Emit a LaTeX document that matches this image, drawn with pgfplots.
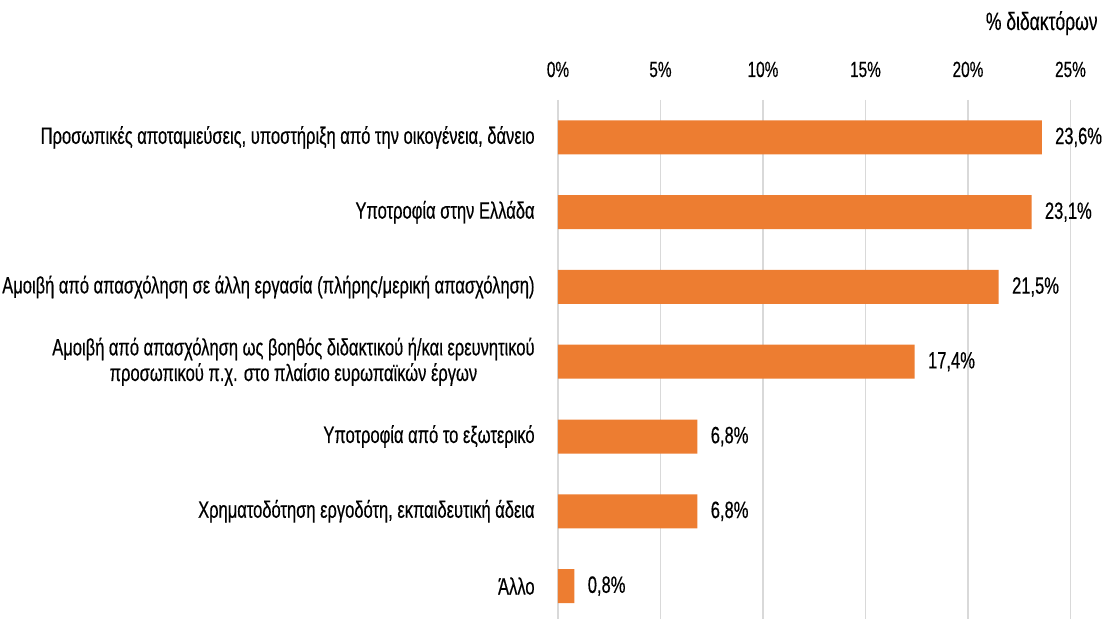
\documentclass[border=0pt]{standalone}
\usepackage{fontspec}
\setmainfont{Liberation Sans}[FakeStretch=0.7, FakeBold=0.4]
\usepackage{pgfplots}
\pgfplotsset{compat=1.18}
\definecolor{barorange}{HTML}{ED7D31}
\definecolor{gridgray}{HTML}{D9D9D9}

\begin{document}
\begin{tikzpicture}
\path[use as bounding box] (-279pt,0pt) rectangle (276pt,309.5pt);
\begin{axis}[
  at={(0,0)}, anchor=south west,
  scale only axis,
  width=256.25pt, height=259.5pt,
  xbar, bar width=17pt,
  xmin=0, xmax=25,
  ymin=-0.5, ymax=6.44,
  y dir=reverse,
  axis line style={draw=none},
  xtick={0,5,10,15,20,25},
  xticklabel pos=upper,
  xticklabel={\pgfmathprintnumber{\tick}\%},
  xticklabel style={font=\fontsize{11}{12}\selectfont, anchor=base, inner sep=0pt, yshift=11.5pt},
  ytick={0,1,2,3,4,5,6},
  yticklabels={
    {Προσωπικές αποταμιεύσεις, υποστήριξη από την οικογένεια, δάνειο},
    {Υποτροφία στην Ελλάδα},
    {Αμοιβή από απασχόληση σε άλλη εργασία (πλήρης/μερική απασχόληση)},
    {Αμοιβή από απασχόληση ως βοηθός διδακτικού ή/και ερευνητικού\\προσωπικού π.χ. στο πλαίσιο ευρωπαϊκών έργων},
    {Υποτροφία από το εξωτερικό},
    {Χρηματοδότηση εργοδότη, εκπαιδευτική άδεια},
    {Άλλο}},
  yticklabel style={font=\fontsize{11.8}{12.8}\selectfont, align=center, anchor=east, inner sep=0pt, xshift=-11.5pt},
  major tick length=0pt,
  xmajorgrids=true,
  grid style={line width=0.75pt, draw=gridgray},
  /pgf/number format/assume math mode=true,
  point meta=x,
  nodes near coords={\pgfmathprintnumber[fixed,fixed zerofill,precision=1,use comma]{\pgfplotspointmeta}\%},
  nodes near coords style={font=\fontsize{11.8}{12}\selectfont, anchor=west, inner sep=0pt, xshift=6.5pt, text=black},
  clip=false,
]
\addplot[fill=barorange, draw=none, bar shift=0pt] coordinates {
  (23.6,0) (23.1,1) (21.5,2) (17.4,3) (6.8,4) (6.8,5) (0.8,6)};
\node[font=\fontsize{12.5}{13}\selectfont, anchor=base east, inner sep=0pt]
  at ([xshift=13.75pt, yshift=35pt]rel axis cs:1,1) {\% διδακτόρων};
\end{axis}
\end{tikzpicture}
\end{document}
